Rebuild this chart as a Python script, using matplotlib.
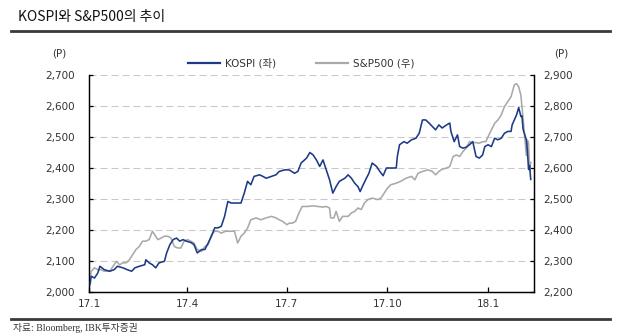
import matplotlib
matplotlib.use("Agg")
import matplotlib.pyplot as plt
import matplotlib.dates as mdates
from matplotlib.lines import Line2D
import numpy as np

# ---- data -------------------------------------------------------------
kospi_dates = [
    "2017-01-02", "2017-01-03", "2017-01-06", "2017-01-09", "2017-01-11", "2017-01-15",
    "2017-01-20", "2017-01-24", "2017-01-27", "2017-02-01", "2017-02-05", "2017-02-09",
    "2017-02-12", "2017-02-16", "2017-02-21", "2017-02-22", "2017-02-25", "2017-02-28",
    "2017-03-03", "2017-03-06", "2017-03-11", "2017-03-13", "2017-03-16", "2017-03-19",
    "2017-03-22", "2017-03-25", "2017-03-28", "2017-03-31", "2017-04-04", "2017-04-07",
    "2017-04-10", "2017-04-14", "2017-04-17", "2017-04-20", "2017-04-23", "2017-04-26",
    "2017-04-29", "2017-05-02", "2017-05-05", "2017-05-08", "2017-05-11", "2017-05-16",
    "2017-05-20", "2017-05-23", "2017-05-26", "2017-05-29", "2017-06-01", "2017-06-06",
    "2017-06-09", "2017-06-12", "2017-06-17", "2017-06-21", "2017-06-24", "2017-06-29",
    "2017-07-03", "2017-07-08", "2017-07-11", "2017-07-14", "2017-07-19", "2017-07-22",
    "2017-07-25", "2017-07-28", "2017-07-31", "2017-08-03", "2017-08-06", "2017-08-09",
    "2017-08-12", "2017-08-15", "2017-08-18", "2017-08-23", "2017-08-26", "2017-08-29",
    "2017-09-01", "2017-09-04", "2017-09-06", "2017-09-08", "2017-09-11", "2017-09-14",
    "2017-09-17", "2017-09-21", "2017-09-24", "2017-09-27", "2017-09-30", "2017-10-04",
    "2017-10-09", "2017-10-10", "2017-10-12", "2017-10-16", "2017-10-19", "2017-10-23",
    "2017-10-27", "2017-10-30", "2017-11-02", "2017-11-05", "2017-11-08", "2017-11-11",
    "2017-11-14", "2017-11-17", "2017-11-20", "2017-11-24", "2017-11-27", "2017-11-28",
    "2017-12-01", "2017-12-04", "2017-12-06", "2017-12-09", "2017-12-12", "2017-12-15",
    "2017-12-18", "2017-12-21", "2017-12-24", "2017-12-27", "2017-12-29", "2018-01-01",
    "2018-01-04", "2018-01-07", "2018-01-10", "2018-01-13", "2018-01-16", "2018-01-19",
    "2018-01-22", "2018-01-23", "2018-01-27", "2018-01-29", "2018-01-31", "2018-02-01",
    "2018-02-02", "2018-02-05", "2018-02-06", "2018-02-07", "2018-02-08", "2018-02-09",
]
kospi_values = [
    2024, 2051, 2045, 2061, 2083, 2072,
    2067, 2072, 2083, 2078, 2072, 2067,
    2078, 2083, 2088, 2104, 2094, 2088,
    2078, 2094, 2099, 2126, 2153, 2169,
    2174, 2164, 2169, 2164, 2160, 2153,
    2126, 2137, 2137, 2158, 2180, 2207,
    2207, 2212, 2244, 2292, 2287, 2287,
    2287, 2319, 2357, 2346, 2373, 2378,
    2373, 2367, 2373, 2378, 2389, 2394,
    2394, 2383, 2389, 2416, 2432, 2450,
    2442, 2426, 2405, 2426, 2394, 2362,
    2319, 2340, 2357, 2367, 2378, 2367,
    2351, 2340, 2324, 2340, 2362, 2383,
    2416, 2405, 2389, 2375, 2400, 2400,
    2400, 2437, 2475, 2485, 2480, 2491,
    2496, 2512, 2555, 2555, 2545, 2534,
    2523, 2539, 2529, 2539, 2545, 2518,
    2485, 2507, 2469, 2464, 2467, 2475,
    2485, 2437, 2432, 2442, 2469, 2475,
    2469, 2496, 2491, 2496, 2512, 2518,
    2518, 2539, 2571, 2595, 2566, 2568,
    2525, 2491, 2454, 2396, 2408, 2363,
]

spx_dates = [
    "2017-01-02", "2017-01-03", "2017-01-06", "2017-01-09", "2017-01-12", "2017-01-15",
    "2017-01-20", "2017-01-23", "2017-01-26", "2017-01-29", "2017-02-01", "2017-02-04",
    "2017-02-07", "2017-02-10", "2017-02-13", "2017-02-16", "2017-02-19", "2017-02-22",
    "2017-02-25", "2017-02-28", "2017-03-02", "2017-03-05", "2017-03-08", "2017-03-11",
    "2017-03-14", "2017-03-17", "2017-03-20", "2017-03-23", "2017-03-26", "2017-03-29",
    "2017-04-01", "2017-04-04", "2017-04-07", "2017-04-10", "2017-04-14", "2017-04-17",
    "2017-04-20", "2017-04-23", "2017-04-26", "2017-04-29", "2017-05-02", "2017-05-06",
    "2017-05-11", "2017-05-14", "2017-05-17", "2017-05-20", "2017-05-23", "2017-05-26",
    "2017-05-29", "2017-06-03", "2017-06-07", "2017-06-12", "2017-06-17", "2017-06-21",
    "2017-06-24", "2017-06-27", "2017-07-01", "2017-07-03", "2017-07-06", "2017-07-09",
    "2017-07-12", "2017-07-15", "2017-07-20", "2017-07-25", "2017-07-29", "2017-08-03",
    "2017-08-06", "2017-08-09", "2017-08-10", "2017-08-13", "2017-08-15", "2017-08-18",
    "2017-08-21", "2017-08-26", "2017-08-29", "2017-09-01", "2017-09-04", "2017-09-07",
    "2017-09-10", "2017-09-13", "2017-09-17", "2017-09-22", "2017-09-25", "2017-09-28",
    "2017-10-01", "2017-10-04", "2017-10-09", "2017-10-13", "2017-10-18", "2017-10-23",
    "2017-10-26", "2017-10-29", "2017-11-02", "2017-11-07", "2017-11-11", "2017-11-14",
    "2017-11-17", "2017-11-20", "2017-11-24", "2017-11-27", "2017-11-30", "2017-12-03",
    "2017-12-06", "2017-12-09", "2017-12-12", "2017-12-15", "2017-12-18", "2017-12-21",
    "2017-12-24", "2017-12-27", "2017-12-30", "2018-01-01", "2018-01-04", "2018-01-07",
    "2018-01-10", "2018-01-13", "2018-01-16", "2018-01-19", "2018-01-22", "2018-01-25",
    "2018-01-27", "2018-01-29", "2018-01-31", "2018-02-01", "2018-02-02", "2018-02-05",
    "2018-02-06", "2018-02-07", "2018-02-08", "2018-02-09",
]
spx_values = [
    2245, 2267, 2278, 2272, 2272, 2267,
    2267, 2283, 2299, 2288, 2294, 2294,
    2304, 2321, 2337, 2347, 2364, 2364,
    2369, 2396, 2385, 2369, 2374, 2380,
    2380, 2374, 2347, 2342, 2342, 2364,
    2369, 2364, 2358, 2337, 2331, 2347,
    2353, 2385, 2396, 2396, 2390, 2396,
    2396, 2396, 2358, 2380, 2390, 2406,
    2433, 2439, 2433, 2439, 2444, 2439,
    2433, 2428, 2417, 2422, 2422, 2428,
    2455, 2476, 2476, 2478, 2476, 2474,
    2476, 2471, 2439, 2439, 2460, 2428,
    2444, 2444, 2455, 2460, 2471, 2466,
    2487, 2498, 2503, 2498, 2503, 2519,
    2535, 2546, 2551, 2557, 2567, 2573,
    2562, 2583, 2589, 2594, 2589, 2578,
    2589, 2596, 2600, 2605, 2637, 2642,
    2637, 2653, 2664, 2685, 2682, 2682,
    2680, 2685, 2685, 2701, 2723, 2744,
    2755, 2771, 2798, 2814, 2830, 2868,
    2872, 2862, 2835, 2797, 2760, 2640,
    2690, 2680, 2590, 2618,
]

left_ticks = [2000, 2100, 2200, 2300, 2400, 2500, 2600, 2700]
right_ticks = [2200, 2300, 2400, 2500, 2600, 2700, 2800, 2900]
x_tick_dates = ["2017-01-01", "2017-04-01", "2017-07-01", "2017-10-01", "2018-01-01"]
x_tick_labels = ["17.1", "17.4", "17.7", "17.10", "18.1"]

title_text = "KOSPI와 S&P500의 추이"
source_text = "자료: Bloomberg, IBK투자증권"
kospi_label = "KOSPI (좌)"
spx_label = "S&P500 (우)"

# ---- styling ----------------------------------------------------------
NAVY = "#1c3a85"
GRAY = "#a9a9a9"
TEXT = "#333333"
SANS = ["DejaVu Sans", "Noto Sans CJK KR"]

W, H = 619, 336
fig = plt.figure(figsize=(W / 100, H / 100), dpi=100)
fig.patch.set_facecolor("white")

def fx(px):
    return px / W

def fy(py):
    return 1 - py / H

ax_l, ax_r, ax_t, ax_b = 89, 534, 75, 292
ax = fig.add_axes([fx(ax_l), fy(ax_b), fx(ax_r - ax_l), (ax_b - ax_t) / H])
ax2 = ax.twinx()

# S&P500 on the right axis sits underneath, KOSPI on top
ax.set_zorder(ax2.get_zorder() + 1)
ax.patch.set_visible(False)

kd = np.array(kospi_dates, dtype="datetime64[D]")
sd = np.array(spx_dates, dtype="datetime64[D]")

l2, = ax2.plot(sd, spx_values, color=GRAY, lw=1.15, label=spx_label, zorder=3)
l1, = ax.plot(kd, kospi_values, color=NAVY, lw=1.15, label=kospi_label, zorder=3)

ax.set_ylim(left_ticks[0], left_ticks[-1])
ax2.set_ylim(right_ticks[0], right_ticks[-1])
ax.set_xlim(np.datetime64("2017-01-01"), np.datetime64("2018-02-12"))

ax.set_yticks(left_ticks)
ax.set_yticklabels([f"{v:,}" for v in left_ticks])
ax2.set_yticks(right_ticks)
ax2.set_yticklabels([f"{v:,}" for v in right_ticks])
ax.set_xticks(np.array(x_tick_dates, dtype="datetime64[D]"))
ax.set_xticklabels(x_tick_labels)

# dashed horizontal grid (drawn on the lower axis so lines stay above it)
for v in right_ticks[1:]:
    ax2.axhline(v, color="#c9c9c9", lw=0.8, ls=(0, (6.3, 3.6)), zorder=1)

for a in (ax, ax2):
    a.spines["top"].set_visible(False)
    for s in ("left", "right", "bottom"):
        a.spines[s].set_color("black")
        a.spines[s].set_linewidth(0.9)

ax.tick_params(axis="y", direction="in", length=3, width=0.9, pad=10,
               labelsize=7.5, labelcolor=TEXT, color="black")
ax2.tick_params(axis="y", direction="in", length=3, width=0.9, pad=6.5,
                labelsize=7.5, labelcolor=TEXT, color="black")
ax.tick_params(axis="x", direction="in", length=3.5, width=0.9, pad=5,
               labelsize=7.5, labelcolor=TEXT, color="black")

# axis unit labels
fig.text(fx(59), fy(54), "(P)", ha="center", va="center", fontsize=7.5,
         color=TEXT, family=SANS)
fig.text(fx(561), fy(54), "(P)", ha="center", va="center", fontsize=7.5,
         color=TEXT, family=SANS)

# legend
leg = ax.legend(handles=[l1, l2], loc="center left",
                bbox_to_anchor=(fx(188), fy(63)), bbox_transform=fig.transFigure,
                ncol=2, frameon=False, borderpad=0, borderaxespad=0,
                handlelength=3.1, handletextpad=0.45, columnspacing=3.8,
                prop={"family": SANS, "size": 7.5})
for t in leg.get_texts():
    t.set_color(TEXT)
for h in leg.legend_handles:
    h.set_linewidth(1.6)

# title and rules
fig.text(fx(18), fy(17), title_text, ha="left", va="center", fontsize=10,
         color="#111111", family=["Noto Sans CJK KR", "DejaVu Sans"])
fig.add_artist(Line2D([fx(11), fx(610)], [fy(31), fy(31)], color="#3a3a3a", lw=2.0))
fig.add_artist(Line2D([fx(11), fx(610)], [fy(319), fy(319)], color="#3a3a3a", lw=2.0))
fig.text(fx(13), fy(328), source_text, ha="left", va="center", fontsize=7,
         color=TEXT, family=["Liberation Serif", "Noto Sans CJK KR"])

fig.savefig("out.png", dpi=100, facecolor="white")
